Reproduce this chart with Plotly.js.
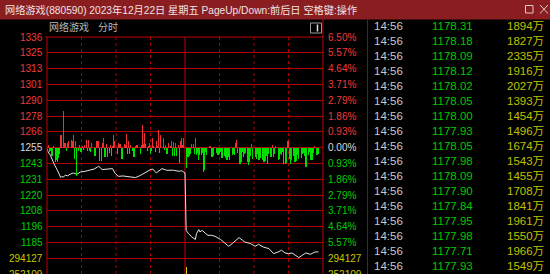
<!DOCTYPE html>
<html><head><meta charset="utf-8">
<script src="https://cdn.plot.ly/plotly-3.0.1.min.js"></script>
<style>html,body{margin:0;padding:0;background:#000;overflow:hidden}#chart{width:550px;height:274px}</style>
</head><body><div id="chart"></div>
<script>
// ---------- data ----------
const titleText = "网络游戏(880590) 2023年12月22日 星期五 PageUp/Down:前后日 空格键:操作";
const panelName = "网络游戏";
const panelMode = "分时";
const preClose = 1254.8;
const stepPct = 6.5 / 7;
const levelK = [7, 6, 5, 4, 3, 2, 1, 0, -1, -2, -3, -4, -5, -6, -7, -8];
const leftLabels = ["1336","1325","1313","1301","1290","1278","1266","1255","1243","1231","1220","1208","1196","1185","294127","252109"];
const rightLabels = ["6.50%","5.57%","4.64%","3.71%","2.79%","1.86%","0.93%","0.00%","0.93%","1.86%","2.79%","3.71%","4.64%","5.57%","294127","252109"];
const volLabelLow = 252109;
const volLabelHigh = 294127;

const priceMin = [0,1,3,4,6,9,12,13,14,16,18,20,23,26,29,33,38,41,44,45,48,52,57,59,62,66,70,74,77,81,86,90,92,95,100,104,110,115,117,120,
  121,123,126,129,130,132,133,135,138,140,143,146,151,155,158,161,164,167,170,172,177,181,184,188,193,197,201,204,207,210,213,216,219,222,225,229,233,236];
const priceVal = [1254.1,1251.6,1249.1,1246.7,1243.0,1238.1,1232.7,1233.6,1233.0,1234.4,1234.0,1235.1,1236.1,1235.1,1236.8,1237.3,1238.1,1239.0,1240.5,1241.0,1238.6,1238.8,1239.3,1236.1,1233.6,1233.9,1233.6,1233.0,1232.7,1234.2,1236.8,1238.6,1239.0,1236.1,1239.3,1238.1,1238.1,1237.3,1237.8,1236.1,
  1193.8,1191.4,1188.9,1187.0,1191.4,1194.3,1192.6,1193.8,1191.4,1190.1,1190.1,1189.4,1187.0,1184.0,1182.0,1184.0,1186.5,1188.4,1186.5,1185.2,1184.0,1182.0,1183.5,1181.5,1180.3,1176.6,1177.8,1179.1,1177.1,1176.6,1177.1,1175.4,1173.7,1175.4,1177.1,1176.1,1177.8,1177.9];

// red/green strength bars, one per minute from 09:30 (signed)
const strength = [
 -4,3,-4,-3,-8,-8,2,-14,-12,-14,
 -10,-6,13,13,37,5,5,-3,5,7,
 -6,8,7,13,-11,7,-28,-3,3,-4,
 -4,2,-2,3,8,-3,8,-3,-4,5,
 7,-8,-8,7,7,7,-13,-13,5,10,
 -9,-9,4,-9,-5,3,-8,2,13,7,
 -6,-6,5,4,4,-11,-11,4,3,14,
 -6,7,-6,3,-3,-9,-9,2,3,3,
 3,-6,3,23,4,15,4,-3,2,5,
 -6,-3,10,2,-4,7,2,18,-5,13,
 2,10,-2,3,-6,-6,5,2,7,-8,
 6,-8,5,-8,3,-15,7,10,3,10,
 -11,
 -20,-9,-9,-8,-6,4,4,-6,10,-7,
 -5,-12,-7,-7,-5,-24,-22,-4,-7,-6,
 2,2,-9,-9,-8,1,-5,-7,-7,-6,
 -4,-10,-10,-8,-10,-12,-12,-9,-12,3,
 -7,-6,-7,5,8,-5,-16,-16,-14,-4,
 -9,-6,-5,-14,-17,-14,-8,4,-11,-11,
 -9,-11,-6,-12,-12,-10,-12,-14,-14,-13,
 -8,-16,-6,-9,-9,3,-9,-6,2,-12,
 -12,-11,-6,-7,-4,-16,-16,-15,7,7,
 -11,-16,-12,-8,-14,-14,-13,-7,-11,-11,
 -10,-6,-5,-8,-19,-19,-7,-4,-12,-12,
 -12,-5,2,-7,-7,-6];
const volMin = [121];
const volVal = [270000];

const tickTimes = ["14:56","14:56","14:56","14:56","14:56","14:56","14:56","14:56","14:56","14:56","14:56","14:56","14:56","14:56","14:56","14:56","14:56"];
const tickPrices = ["1178.31","1178.18","1178.09","1178.12","1178.02","1178.05","1178.00","1177.93","1178.05","1177.98","1178.09","1177.90","1177.84","1177.95","1177.98","1177.71","1177.93"];
const tickVols = ["1894万","1827万","2335万","1916万","2027万","1393万","1454万","1496万","1674万","1543万","1455万","1708万","1841万","1961万","1550万","1966万","1549万"];

const gridMinutes = [30, 60, 90, 150, 180, 210];
const noonMinute = 120;

// ---------- layout helpers ----------
const W = 550, H = 274, M = {l: 47, r: 227, t: 37, b: 0};
const pw = W - M.l - M.r, ph = H - M.t - M.b;
const px2x = p => (p - M.l) / pw;
const py2y = p => (H - M.b - p) / ph;
const nLev = levelK[0] - levelK[levelK.length - 1];
const levels = levelK.map(k => preClose * (1 + k * stepPct / 100));
const yTop = levels[0], yBot = levels[levels.length - 1];
const pxPerLev = ph / nLev;
const volStep = volLabelHigh - volLabelLow;

const FONT = "Liberation Sans, Arial, Noto Sans CJK SC, sans-serif";
const RED = "#f03a3a", GREEN = "#00d000", WHITE = "#dcdcdc", YEL = "#c8c800";
const GRID = "#b40000";

function labelColor(k) { return k > 0 ? RED : (k === 0 ? WHITE : (k >= -6 ? GREEN : YEL)); }

const traces = [
  {type: "bar", x: strength.map((v, i) => i), y: strength, yaxis: "y2",
   marker: {color: strength.map(v => v >= 0 ? "#ee3030" : "#00e000"), line: {width: 0}},
   width: 0.85, hoverinfo: "skip"},
  {type: "bar", x: volMin, y: volVal, yaxis: "y3",
   marker: {color: "#d0d000", line: {width: 0}}, width: 0.9, hoverinfo: "skip"},
  {type: "scatter", mode: "lines", x: priceMin, y: priceVal, yaxis: "y",
   line: {color: "#e4e4e4", width: 1}, hoverinfo: "skip"}
];

const ann = [];
levelK.forEach((k, i) => {
  ann.push({xref: "paper", yref: "y", x: px2x(44.5), y: levels[i], xanchor: "right", yanchor: "middle",
    text: leftLabels[i], showarrow: false, font: {family: FONT, size: 10, color: labelColor(k)}});
  ann.push({xref: "paper", yref: "y", x: px2x(325.5), y: levels[i], xanchor: "left", yanchor: "middle",
    text: rightLabels[i], showarrow: false, font: {family: FONT, size: 10, color: labelColor(k)}});
});
ann.push({xref: "paper", yref: "paper", x: px2x(3), y: py2y(10), xanchor: "left", yanchor: "middle",
  text: titleText, showarrow: false, font: {family: FONT, size: 10.2, color: "#f0e2e2"}});
ann.push({xref: "paper", yref: "paper", x: px2x(47), y: py2y(27.5), xanchor: "left", yanchor: "middle",
  text: panelName, showarrow: false, font: {family: FONT, size: 10, color: "#b8b8b8"}});
ann.push({xref: "paper", yref: "paper", x: px2x(96), y: py2y(27.5), xanchor: "left", yanchor: "middle",
  text: panelMode, showarrow: false, font: {family: FONT, size: 10, color: "#b8b8b8"}});
tickTimes.forEach((t, i) => {
  const yy = py2y(26 + 15 * i);
  ann.push({xref: "paper", yref: "paper", x: px2x(372), y: yy, xanchor: "left", yanchor: "middle",
    text: t, showarrow: false, font: {family: FONT, size: 11.5, color: "#c8c8c8"}});
  ann.push({xref: "paper", yref: "paper", x: px2x(430), y: yy, xanchor: "left", yanchor: "middle",
    text: tickPrices[i], showarrow: false, font: {family: FONT, size: 11.5, color: "#00c800"}});
  ann.push({xref: "paper", yref: "paper", x: px2x(546), y: yy, xanchor: "right", yanchor: "middle",
    text: tickVols[i], showarrow: false, font: {family: FONT, size: 11.5, color: "#c0c000"}});
});

const shapes = [];
// title bar
shapes.push({type: "rect", xref: "paper", yref: "paper", x0: px2x(0), x1: px2x(550), y0: py2y(19.5), y1: py2y(0),
  fillcolor: "#8a1d20", line: {width: 0}, layer: "above"});
// window icons
shapes.push({type: "rect", xref: "paper", yref: "paper", x0: px2x(525.5), x1: px2x(533), y0: py2y(13), y1: py2y(5.5),
  line: {color: "#e0caca", width: 1}, layer: "above"});
shapes.push({type: "line", xref: "paper", yref: "paper", x0: px2x(540), x1: px2x(548), y0: py2y(5), y1: py2y(13.5),
  line: {color: "#e0caca", width: 1}, layer: "above"});
shapes.push({type: "line", xref: "paper", yref: "paper", x0: px2x(540), x1: px2x(548), y0: py2y(13.5), y1: py2y(5),
  line: {color: "#e0caca", width: 1}, layer: "above"});
// panel icon
shapes.push({type: "rect", xref: "paper", yref: "paper", x0: px2x(310.5), x1: px2x(321.5), y0: py2y(33), y1: py2y(23),
  line: {color: "#9a9a9a", width: 1}, layer: "above"});
shapes.push({type: "line", xref: "paper", yref: "paper", x0: px2x(317.5), x1: px2x(317.5), y0: py2y(31.5), y1: py2y(24.5),
  line: {color: "#e0e0e0", width: 1.5}, layer: "above"});
// time grid lines
gridMinutes.forEach(m => shapes.push({type: "line", xref: "x", yref: "paper", x0: m, x1: m, y0: 0, y1: 1,
  line: {color: "#a80000", width: 1, dash: "dot"}, layer: "below"}));
shapes.push({type: "line", xref: "x", yref: "paper", x0: noonMinute, x1: noonMinute, y0: 0, y1: 1,
  line: {color: "#c80000", width: 1}, layer: "below"});
// frame
shapes.push({type: "line", xref: "paper", yref: "paper", x0: 0, x1: 0, y0: 0, y1: 1, line: {color: "#c00000", width: 1}, layer: "above"});
shapes.push({type: "line", xref: "paper", yref: "paper", x0: 1, x1: 1, y0: 0, y1: py2y(19.5), line: {color: "#c00000", width: 1}, layer: "above"});
shapes.push({type: "line", xref: "paper", yref: "paper", x0: px2x(45), x1: 1, y0: 1, y1: 1, line: {color: "#c00000", width: 1}, layer: "above"});
shapes.push({type: "line", xref: "paper", yref: "paper", x0: px2x(367.5), x1: px2x(367.5), y0: 0, y1: py2y(19.5), line: {color: "#a00000", width: 1}, layer: "above"});

const layout = {
  width: W, height: H, margin: M, paper_bgcolor: "#000", plot_bgcolor: "#000", showlegend: false,
  barmode: "overlay", bargap: 0,
  xaxis: {range: [0, 240], showgrid: false, zeroline: false, showticklabels: false, showline: false, ticks: "", fixedrange: true},
  yaxis: {range: [yBot, yTop], tickvals: levels, showticklabels: false, ticks: "", showgrid: true, gridcolor: GRID, gridwidth: 1,
          zeroline: false, showline: false, fixedrange: true},
  yaxis2: {overlaying: "y", range: [levelK[levelK.length - 1] * pxPerLev, levelK[0] * pxPerLev], visible: false, fixedrange: true},
  yaxis3: {overlaying: "y", range: [volLabelLow, volLabelLow + nLev * volStep], visible: false, fixedrange: true},
  annotations: ann, shapes: shapes
};
Plotly.newPlot("chart", traces, layout, {staticPlot: true, displayModeBar: false});
</script></body></html>
